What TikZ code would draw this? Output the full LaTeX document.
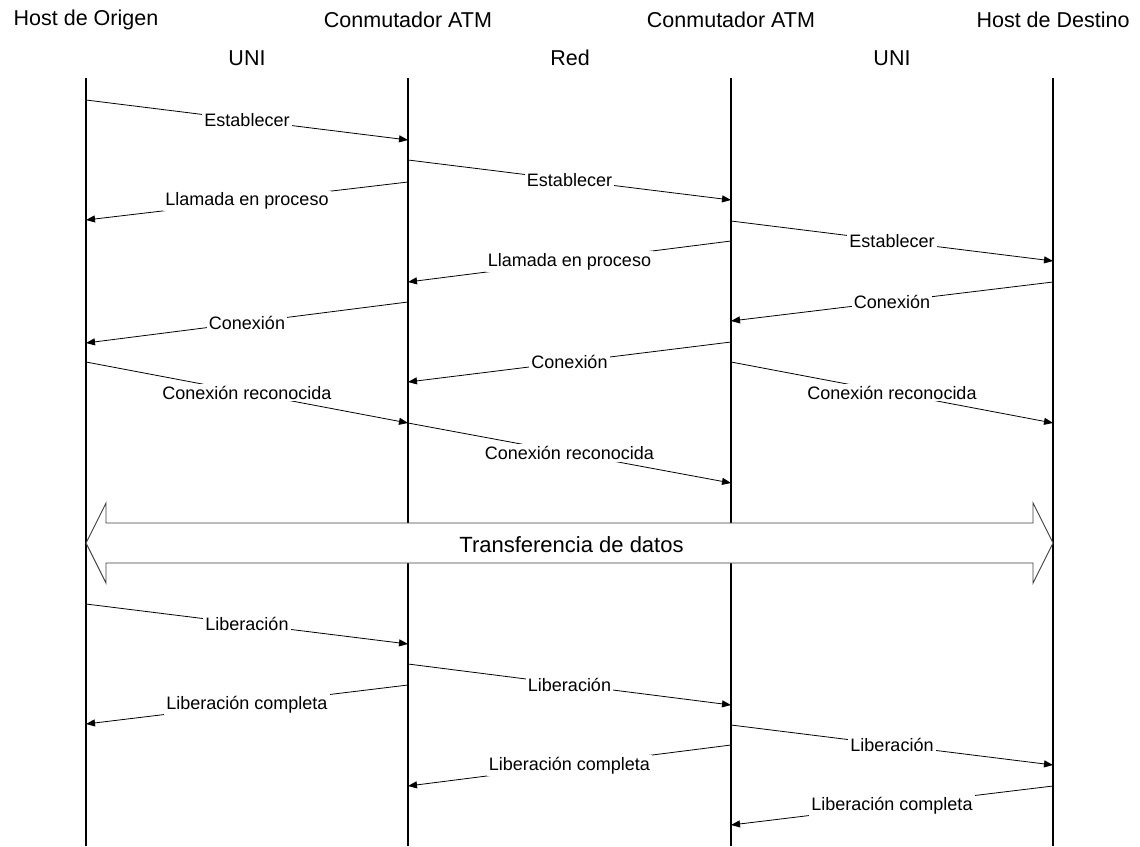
\documentclass[tikz,border=0pt]{standalone}
\usepackage{fontspec}
\setmainfont{Liberation Sans}
\usetikzlibrary{arrows.meta,calc}
\begin{document}
\begin{tikzpicture}[x=1pt,y=-1pt,
  lifeline/.style={line width=1.6pt},
  msg/.style={line width=0.8pt,-{Triangle[length=9pt,width=7pt]}},
  lbl/.style={fill=white,inner sep=2pt,font=\fontsize{18}{20}\selectfont},
  head/.style={font=\fontsize{21.5}{24}\selectfont,inner sep=0pt},
  bigarrow/.style={draw=black!75,line width=0.9pt,fill=white,line join=miter}]
\useasboundingbox (0,0) rectangle (1140,846);

% column headings
\node[head] (h1) at (86,20)  {Host de Origen};
\node[head] (h2) at (408,20) {Conmutador ATM};
\node[head] (h3) at (731,20) {Conmutador ATM};
\node[head] (h4) at (1053,20) {Host de Destino};
\node[head] (i1) at (247,58) {UNI};
\node[head] (i2) at (570,58) {Red};
\node[head] (i3) at (892,58) {UNI};

% lifelines
\foreach \n/\x in {1/86,2/408,3/731,4/1053}{
  \coordinate (T\n) at (\x,78);
  \coordinate (B\n) at (\x,846);
  \draw[lifeline] (T\n) -- (B\n);
}

% signalling messages: number / from / y / to / y / text
\foreach \n/\a/\ya/\b/\yb/\t in {
   1/1/100/2/140/Establecer,
   2/2/160/3/200/Establecer,
   3/2/182/1/220/Llamada en proceso,
   4/3/221/4/261/Establecer,
   5/3/241/2/282/Llamada en proceso,
   6/4/282/3/321/Conexión,
   7/2/302/1/343/Conexión,
   8/3/342/2/382/Conexión,
   9/1/362/2/423/Conexión reconocida,
  10/3/362/4/423/Conexión reconocida,
  11/2/423/3/483/Conexión reconocida,
  12/1/604/2/644/Liberación,
  13/2/664/3/705/Liberación,
  14/2/685/1/724/Liberación completa,
  15/3/725/4/765/Liberación,
  16/3/745/2/786/Liberación completa,
  17/4/786/3/825/Liberación completa}{
  \coordinate (s\n) at (T\a |- 0,\ya);
  \coordinate (e\n) at (T\b |- 0,\yb);
  \draw[msg] (s\n) -- node[lbl] (t\n) {\t} (e\n);
}

% data transfer phase
\coordinate (L) at (B1 |- 0,543);
\coordinate (R) at (B4 |- 0,543);
\draw[bigarrow] (L) -- ($(L)+(20,-40)$) -- ($(L)+(20,-20)$) -- ($(R)+(-20,-20)$)
  -- ($(R)+(-20,-40)$) -- (R) -- ($(R)+(-20,40)$) -- ($(R)+(-20,20)$)
  -- ($(L)+(20,20)$) -- ($(L)+(20,40)$) -- cycle;
\node[font=\fontsize{22}{24}\selectfont,inner sep=0pt] (xfer) at ($(L)!0.5!(R)+(2,2)$) {Transferencia de datos};
\end{tikzpicture}
\end{document}
